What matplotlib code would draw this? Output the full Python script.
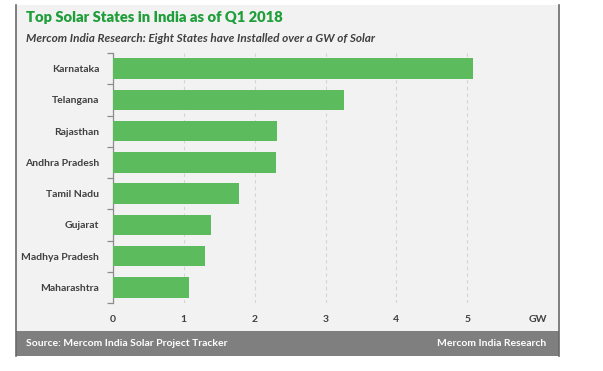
import matplotlib.pyplot as plt
from matplotlib.patches import Rectangle
from matplotlib.lines import Line2D

# data
states = ['Karnataka', 'Telangana', 'Rajasthan', 'Andhra Pradesh',
          'Tamil Nadu', 'Gujarat', 'Madhya Pradesh', 'Maharashtra']
gw = [5.08, 3.26, 2.32, 2.30, 1.78, 1.38, 1.30, 1.07]
xticks = [0, 1, 2, 3, 4, 5, 6]
xticklabels = ['0', '1', '2', '3', '4', '5', 'GW']

plt.rcParams['font.family'] = ['Lato', 'DejaVu Sans']

W, H = 603, 371
fig = plt.figure(figsize=(W/100, H/100), dpi=100)
fig.patch.set_facecolor('white')

def fx(px): return px / W
def fy(py): return 1 - py / H

# panel background
fig.patches.append(Rectangle((fx(16), fy(331)), fx(559) - fx(16), fy(5) - fy(331),
                             transform=fig.transFigure, facecolor='#f2f2f2',
                             edgecolor='none', zorder=-2))
# footer band
fig.patches.append(Rectangle((fx(16), fy(356)), fx(559) - fx(16), fy(331) - fy(356),
                             transform=fig.transFigure, facecolor='#7f7f7f',
                             edgecolor='none', zorder=-2))
for xe in (16, 559):
    fig.lines.append(Line2D([fx(xe), fx(xe)], [fy(356), fy(5)], transform=fig.transFigure,
                            color='#6a6a6a', lw=1.2, zorder=-1))

ax = fig.add_axes([fx(113), fy(303), fx(538) - fx(113), fy(53) - fy(303)])
ax.set_zorder(2)
ax.set_facecolor('none')

ypos = list(range(len(states)))
ax.barh(ypos, gw, height=0.66, color='#5bbb5d', zorder=3)
ax.set_xlim(0, 6)
ax.set_ylim(len(states) - 0.5, -0.5)

ax.set_xticks(xticks)
ax.set_xticklabels(xticklabels)
ax.xaxis.grid(True, linestyle=(0, (3, 3)), color='#d4d4d4', lw=0.8, zorder=0)
ax.set_axisbelow(True)
ax.set_yticks(ypos)
ax.set_yticklabels(states)
ax.set_yticks([i - 0.5 for i in range(len(states) + 1)], minor=True)

for s in ['top', 'right', 'bottom']:
    ax.spines[s].set_visible(False)
ax.spines['left'].set_color('#8c8c8c')
ax.spines['left'].set_linewidth(0.9)

ax.tick_params(axis='y', which='major', length=0, pad=10, labelsize=7.5,
               labelcolor='#404040')
ax.tick_params(axis='y', which='minor', length=4, color='#8c8c8c', width=0.9)
ax.tick_params(axis='x', length=0, pad=9, labelsize=7.5, labelcolor='#404040')
for lbl in ax.get_xticklabels() + ax.get_yticklabels():
    lbl.set_fontweight('bold')

fig.text(fx(26), fy(18), 'Top Solar States in India as of Q1 2018', color='#1f9e3a',
         fontsize=10.6, fontweight='heavy', va='center', ha='left')
fig.text(fx(26), fy(38), 'Mercom India Research: Eight States have Installed over a GW of Solar',
         color='#404040', fontsize=8.5, fontweight='bold', fontstyle='italic',
         va='center', ha='left')
fig.text(fx(26), fy(344), 'Source: Mercom India Solar Project Tracker', color='white',
         fontsize=7.5, fontweight='bold', va='center', ha='left')
fig.text(fx(546), fy(344), 'Mercom India Research', color='white',
         fontsize=7.5, fontweight='bold', va='center', ha='right')

fig.savefig('out.png', dpi=100)
